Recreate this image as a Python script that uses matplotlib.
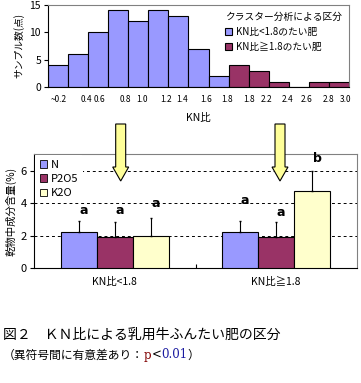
import matplotlib
matplotlib.use("Agg")
import matplotlib.pyplot as plt
from matplotlib.patches import Patch, Polygon

plt.rcParams['font.family'] = ['Noto Sans CJK JP', 'DejaVu Sans']

# --Data--

# histogram of KN ratio
binLabels = ["~0.2", "0.4", "0.6", "0.8", "1.0", "1.2", "1.4", "1.6", "1.8",
             "1.8", "2.2", "2.4", "2.6", "2.8", "3.0"]
countsLow = [4, 6, 10, 14, 12, 14, 13, 7, 2]      # KN ratio < 1.8
countsHigh = [4, 3, 1, 0, 1, 1]                   # KN ratio >= 1.8
histLegendTitle = "クラスター分析による区分"
histLegend = ["KN比<1.8のたい肥", "KN比≧1.8のたい肥"]

# nutrient content by group
groups = ["KN比<1.8", "KN比≧1.8"]
nutrients = ["N", "P2O5", "K2O"]
means = {"N": [2.23, 2.23], "P2O5": [1.93, 1.93], "K2O": [2.0, 4.78]}
sds = {"N": [0.68, 0.68], "P2O5": [0.92, 0.92], "K2O": [1.1, 1.19]}
letters = {"N": ["a", "a"], "P2O5": ["a", "a"], "K2O": ["a", "b"]}
letterY = {"N": [3.57, 4.18], "P2O5": [3.57, 3.45], "K2O": [4.0, 6.77]}

blue = "#9999FF"
maroon = "#993366"
yellow = "#FFFFCC"
colors = {"N": blue, "P2O5": maroon, "K2O": yellow}

W, H = 361, 383
fig = plt.figure(figsize=(W / 100, H / 100), dpi=100)

def box(l, t, r, b):
    return [l / W, 1 - b / H, (r - l) / W, (b - t) / H]

# --Histogram--
ax1 = fig.add_axes(box(48, 5, 349, 87))
nLow = len(countsLow)
xLow = [i + 0.5 for i in range(nLow)]
xHigh = [nLow + i + 0.5 for i in range(len(countsHigh))]
ax1.bar(xLow, countsLow, width=1.0, color=blue, edgecolor="black", linewidth=0.8,
        label=histLegend[0])
ax1.bar(xHigh, countsHigh, width=1.0, color=maroon, edgecolor="black", linewidth=0.8,
        label=histLegend[1])
ax1.set_xlim(0, len(binLabels))
ax1.set_ylim(0, 15)
ax1.set_yticks([0, 5, 10, 15])
tickPos = [0.55, 1.93, 2.55, 3.88, 4.7, 5.89, 6.7, 7.9, 8.9, 10.0, 10.9, 11.95,
           12.9, 14.0, 14.85]
ax1.set_xticks(tickPos)
ax1.set_xticklabels(binLabels, fontsize=6)
ax1.tick_params(axis="x", length=0, pad=6)
ax1.tick_params(axis="y", labelsize=7.5, length=3, width=0.8, pad=2)
ax1.set_xlabel("KN比", fontsize=7.5, labelpad=6)
ax1.set_ylabel("サンプル数(点)", fontsize=7, labelpad=4)
for s in ["top", "right"]:
    ax1.spines[s].set_color("#808080")
leg1 = ax1.legend(title=histLegendTitle, loc="upper right", frameon=False,
                  fontsize=7, title_fontproperties={"size": 7},
                  handlelength=0.7, handleheight=0.7, handletextpad=0.4,
                  labelspacing=0.5, borderaxespad=0.3)
leg1._legend_box.align = "left"

# --Bar chart--
ax2 = fig.add_axes(box(34, 154, 357, 268))
bw = 0.223
for j, nut in enumerate(nutrients):
    xs = [g + 0.5 + (j - 1) * bw for g in range(len(groups))]
    ax2.bar(xs, means[nut], width=bw, color=colors[nut], edgecolor="black",
            linewidth=0.8, zorder=3)
    ax2.errorbar(xs, means[nut], yerr=[[0] * len(xs), sds[nut]], fmt="none",
                 ecolor="black", elinewidth=0.8, capsize=1, zorder=4)
    for k, x in enumerate(xs):
        ax2.text(x + 0.03, letterY[nut][k], letters[nut][k], ha="center",
                 va="center", fontsize=9, fontweight="bold",
                 family="DejaVu Sans", zorder=5)
ax2.set_xlim(0, len(groups))
ax2.set_ylim(0, 7.05)
ax2.set_yticks([0, 2, 4, 6])
ax2.set_xticks([1.0])
ax2.set_xticklabels([""])
ax2.tick_params(axis="x", direction="in", length=3, width=0.8)
ax2.tick_params(axis="y", labelsize=8, length=3, width=0.8, pad=2)
for g, name in enumerate(groups):
    ax2.text(g + 0.5, -0.85, name, ha="center", va="center", fontsize=7.5)
for yv in [2, 4, 6]:
    ax2.axhline(yv, color="black", linewidth=0.7, linestyle=(0, (3, 3)), zorder=1)
ax2.set_ylabel("乾物中成分含量(%)", fontsize=7.5, labelpad=3)
for s in ["top", "right"]:
    ax2.spines[s].set_color("#808080")
handles = [Patch(facecolor=colors[n], edgecolor="black", linewidth=0.6)
           for n in nutrients]
leg2 = ax2.legend(handles, nutrients, loc="upper left", fontsize=8,
                  frameon=True, facecolor="white", edgecolor="none", framealpha=1,
                  handlelength=0.7, handleheight=0.7, handletextpad=0.3,
                  labelspacing=0.4, borderaxespad=0.1, borderpad=0.4)
leg2.set_zorder(6)

# --Yellow arrows--
for cx in [120.7, 280.0]:
    pts = [(cx - 5, 124), (cx + 5, 124), (cx + 5, 167), (cx + 8, 167),
           (cx, 181), (cx - 8, 167), (cx - 5, 167)]
    poly = Polygon([(x / W, 1 - y / H) for x, y in pts], closed=True,
                   facecolor="#FFFF99", edgecolor="black", linewidth=0.8,
                   transform=fig.transFigure, zorder=10)
    fig.patches.append(poly)

# --Caption--
fig.text(3 / W, 1 - 335 / H, "図２　ＫＮ比による乳用牛ふんたい肥の区分",
         fontsize=10, va="center", ha="left")
capY = 1 - 355 / H
pieces = [("（異符号間に有意差あり：", "black", None),
          ("p", "#800000", "DejaVu Serif"),
          ("<", "black", "DejaVu Serif"),
          ("0.01", "#1a1aa0", "DejaVu Serif"),
          ("）", "black", None)]
xpos = 3 / W
for txt, col, fam in pieces:
    kw = {"family": fam} if fam else {}
    t = fig.text(xpos, capY, txt, fontsize=8.5, va="center", ha="left",
                 color=col, **kw)
    fig.canvas.draw()
    xpos = t.get_window_extent().x1 / W

fig.savefig("out.png", dpi=100)
